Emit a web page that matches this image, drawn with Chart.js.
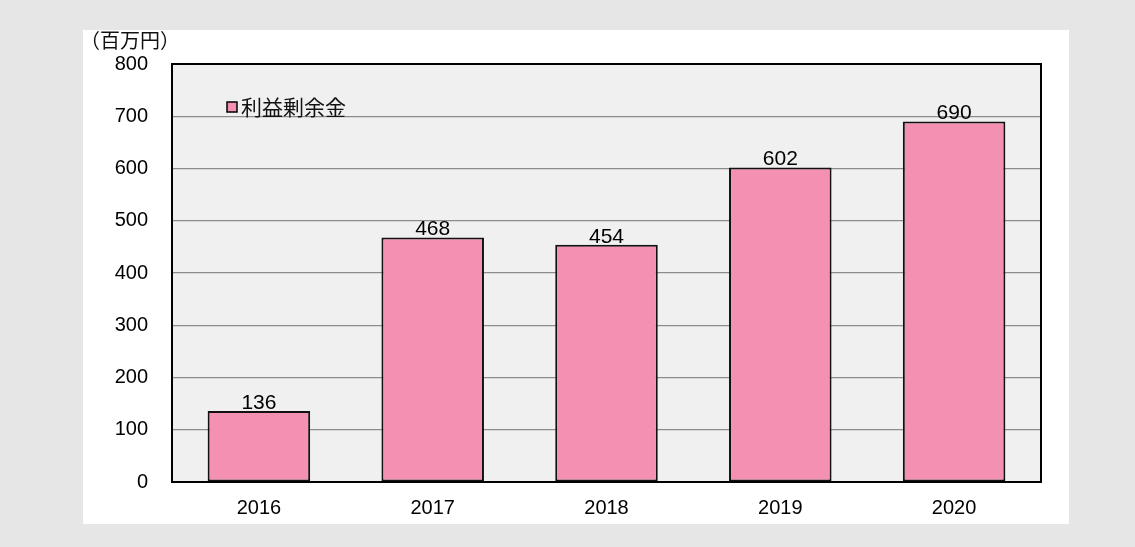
<!DOCTYPE html>
<html><head><meta charset="utf-8">
<script src="https://cdn.jsdelivr.net/npm/chart.js@4/dist/chart.umd.min.js"></script>
<style>html,body{margin:0;padding:0;background:#e6e6e6;}#wrap{width:1135px;height:547px;}</style>
</head><body><div id="wrap"><canvas id="c" width="1135" height="547"></canvas></div>
<script>
const categories = ['2016','2017','2018','2019','2020'];
const retainedEarnings = [136, 468, 454, 602, 690];
const seriesLabel = '利益剰余金';
const unitLabel = '（百万円）';
const yTicks = [0,100,200,300,400,500,600,700,800];

const FONT = "'Liberation Sans', Arial, sans-serif";
const CJK = "'Noto Sans CJK JP', 'Liberation Sans', sans-serif";

const deco = {
  id: 'deco',
  beforeDraw(chart) {
    const ctx = chart.ctx, a = chart.chartArea;
    ctx.save();
    ctx.fillStyle = '#e6e6e6';
    ctx.fillRect(0, 0, chart.width, chart.height);
    ctx.fillStyle = '#ffffff';
    ctx.fillRect(83, 30, 986, 494);
    ctx.fillStyle = '#f0f0f0';
    ctx.fillRect(a.left, a.top, a.right - a.left, a.bottom - a.top);
    ctx.restore();
  },
  afterDatasetsDraw(chart) {
    const ctx = chart.ctx, a = chart.chartArea;
    ctx.save();
    ctx.strokeStyle = '#000';
    ctx.lineWidth = 2;
    ctx.strokeRect(a.left, a.top, a.right - a.left, a.bottom - a.top);
    // value labels
    const meta = chart.getDatasetMeta(0);
    ctx.fillStyle = '#000';
    ctx.font = '21px ' + FONT;
    ctx.textAlign = 'center';
    ctx.textBaseline = 'alphabetic';
    meta.data.forEach((bar, i) => {
      ctx.fillText(String(chart.data.datasets[0].data[i]), bar.x, bar.y - 2);
    });
    // legend
    ctx.fillStyle = chart.data.datasets[0].backgroundColor;
    ctx.fillRect(227, 102, 10, 10);
    ctx.lineWidth = 1.5;
    ctx.strokeStyle = '#000';
    ctx.strokeRect(227, 102, 10, 10);
    ctx.fillStyle = '#111';
    ctx.textAlign = 'left';
    ctx.font = '21px ' + CJK;
    ctx.textBaseline = 'middle';
    ctx.fillText(chart.data.datasets[0].label, 241, 107);
    // unit
    ctx.font = '20px ' + CJK;
    ctx.fillText(unitLabel, 80, 40);
    ctx.restore();
  }
};

new Chart(document.getElementById('c'), {
  type: 'bar',
  data: {
    labels: categories,
    datasets: [{
      label: seriesLabel,
      data: retainedEarnings,
      backgroundColor: '#f490b2',
      borderColor: '#111',
      borderWidth: 2,
      borderSkipped: false,
      barPercentage: 0.59,
      categoryPercentage: 1.0
    }]
  },
  options: {
    responsive: false,
    animation: false,
    devicePixelRatio: 1,
    layout: { padding: { top: 64, right: 94, bottom: 0, left: 0 } },
    plugins: { legend: { display: false }, tooltip: { enabled: false } },
    scales: {
      x: {
        grid: { display: false, drawTicks: false },
        border: { display: false },
        ticks: { color: '#000', font: { size: 20, family: FONT }, padding: 14 },
        afterFit(s) { s.height = 65; }
      },
      y: {
        min: 0, max: 800,
        afterBuildTicks(s) { s.ticks = yTicks.map(v => ({ value: v })); },
        grid: { color: '#8c8c8c', lineWidth: 1.2, drawTicks: false },
        border: { display: false },
        ticks: { color: '#000', font: { size: 20, family: FONT }, padding: 24 },
        afterFit(s) { s.width = 172; }
      }
    }
  },
  plugins: [deco]
});
</script></body></html>
